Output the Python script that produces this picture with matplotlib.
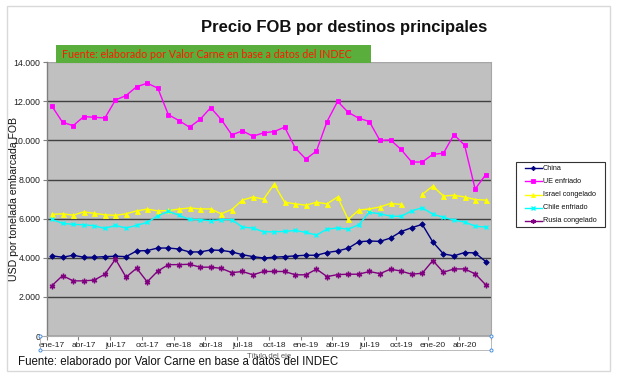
import numpy as np
import matplotlib
matplotlib.use('Agg')
import matplotlib.pyplot as plt
from matplotlib.patches import Rectangle
from matplotlib.lines import Line2D
from matplotlib.ticker import FuncFormatter

plt.rcParams['font.family'] = ['Liberation Sans', 'DejaVu Sans']

# ---------------- data ----------------
tick_labels = ["ene-17", "abr-17", "jul-17", "oct-17", "ene-18", "abr-18", "jul-18",
               "oct-18", "ene-19", "abr-19", "jul-19", "oct-19", "ene-20", "abr-20"]

china = [4100, 4030, 4130, 4030, 4030, 4060, 4080, 4060, 4350, 4370,
         4500, 4500, 4450, 4300, 4300, 4400, 4380, 4300, 4160, 4060,
         3990, 4030, 4060, 4100, 4130, 4130, 4270, 4350, 4490, 4820,
         4860, 4840, 5010, 5340, 5540, 5710, 4810, 4200, 4100, 4270,
         4250, 3810]
ue_enfriado = [11750, 10930, 10760, 11220, 11190, 11150, 12070, 12300, 12750, 12930,
               12680, 11320, 11020, 10680, 11080, 11680, 11070, 10290, 10490, 10220,
               10390, 10460, 10680, 9610, 9050, 9460, 10970, 12000, 11440, 11140,
               10970, 10000, 10030, 9540, 8900, 8900, 9290, 9350, 10300, 9760,
               7520, 8250]
israel_congelado = [6220, 6250, 6180, 6350, 6270, 6200, 6170, 6250, 6400, 6490,
                    6400, 6420, 6490, 6550, 6500, 6500, 6250, 6470, 6950, 7110,
                    7000, 7760, 6840, 6760, 6690, 6840, 6760, 7110, 5960, 6440,
                    6500, 6600, 6780, 6730, np.nan, 7240, 7670, 7160, 7200, 7110,
                    6980, 6950]
chile_enfriado = [5960, 5760, 5710, 5690, 5640, 5500, 5660, 5520, 5660, 5810,
                  6150, 6370, 6180, 5960, 5950, 5890, 5950, 5950, 5570, 5520,
                  5330, 5330, 5350, 5400, 5300, 5160, 5470, 5520, 5470, 5690,
                  6330, 6250, 6130, 6120, 6400, 6560, 6230, 6070, 5930, 5830,
                  5620, 5570]
rusia_congelado = [2580, 3090, 2820, 2820, 2860, 3160, 3930, 3010, 3470, 2770,
                   3320, 3650, 3650, 3670, 3520, 3520, 3460, 3240, 3300, 3130,
                   3300, 3300, 3300, 3130, 3130, 3420, 3040, 3140, 3160, 3160,
                   3300, 3190, 3420, 3320, 3160, 3210, 3860, 3260, 3430, 3430,
                   3180, 2620]

series_names = ["China", "UE enfriado", "Israel congelado", "Chile enfriado", "Rusia congelado"]
series_values = [china, ue_enfriado, israel_congelado, chile_enfriado, rusia_congelado]

styles = [
    dict(color='#000080', marker='D', ms=2.8, mfc='#000080', mec='#000080', mew=0.6),
    dict(color='#FF00FF', marker='s', ms=3.2, mfc='#FF00FF', mec='#FF00FF', mew=0.6),
    dict(color='#FFFF00', marker='^', ms=3.6, mfc='#FFFF00', mec='#FFFF00', mew=0.6),
    dict(color='#00FFFF', marker='x', ms=3.4, mfc='#00FFFF', mec='#00FFFF', mew=1.0),
    dict(color='#800080', marker=(6, 2, 0), ms=4.0, mfc='#800080', mec='#800080', mew=1.0),
]

# ---------------- layout helpers ----------------
W, H = 620, 378
def fx(px): return px / W
def fy(py): return 1 - py / H

fig = plt.figure(figsize=(6.2, 3.78), dpi=100)
fig.patch.set_facecolor('white')

# outer chart frame
fig.patches.append(Rectangle((fx(7), fy(371)), fx(610) - fx(7), fy(6) - fy(371),
                             transform=fig.transFigure, fill=False,
                             edgecolor='#d9d9d9', lw=1.0, zorder=0))

ax = fig.add_axes([fx(46.7), fy(336), fx(491) - fx(46.7), fy(62.3) - fy(336)])
ax.set_facecolor('#c0c0c0')

n = len(china)
x = np.arange(n)
for name, vals, st in zip(series_names, series_values, styles):
    ax.plot(x, vals, lw=1.0, label=name, zorder=3, **st)

ax.set_xlim(-0.5, n - 0.5)
ax.set_ylim(0, 14000)
ax.set_yticks(np.arange(0, 14001, 2000))
ax.yaxis.set_major_formatter(FuncFormatter(lambda v, p: f"{int(v):,}".replace(',', '.')))
ax.grid(axis='y', color='#404040', lw=1.0, zorder=1)
ax.get_ygridlines()[-1].set_color('#a6a6a6')
ax.set_axisbelow(True)

ax.set_xticks(np.arange(-0.5, n, 3))
ax.set_xticklabels([])
ax.set_xticks(np.arange(0, n, 3), minor=True)
ax.set_xticklabels(tick_labels, minor=True)
ax.tick_params(axis='x', which='major', direction='out', length=3, color='#808080')
ax.tick_params(axis='x', which='minor', length=0, pad=4, labelsize=6, labelcolor='#222222')
ax.tick_params(axis='y', direction='out', length=3, color='#808080', pad=1.5,
               labelsize=6.3, labelcolor='#222222')

ax.spines['top'].set_visible(False)
ax.spines['left'].set_color('#7f7f7f')
ax.spines['left'].set_linewidth(1.0)
ax.spines['right'].set_color('#a6a6a6')
ax.spines['right'].set_linewidth(0.8)
ax.spines['bottom'].set_color('#a6a6a6')
ax.spines['bottom'].set_linewidth(0.8)

# selected axis box with handles
fig.patches.append(Rectangle((fx(40), fy(350)), fx(491) - fx(40), fy(336) - fy(350),
                             transform=fig.transFigure, fill=False,
                             edgecolor='#b0b0b0', lw=0.6, zorder=2))
for hx, hy in [(40, 336), (40, 350), (491, 336), (491, 350)]:
    fig.lines.append(Line2D([fx(hx)], [fy(hy)], transform=fig.transFigure, marker='o',
                            ms=2.2, mfc='white', mec='#4a90e2', mew=0.7, zorder=6))

# title
fig.text(fx(344), fy(27.5), "Precio FOB por destinos principales", ha='center', va='center',
         fontsize=12, fontweight='bold', color='#111111')

# green source box
fig.patches.append(Rectangle((fx(55.7), fy(63.3)), fx(370.7) - fx(55.7), fy(45) - fy(63.3),
                             transform=fig.transFigure, facecolor='#5AAE3B',
                             edgecolor='none', zorder=5))
fig.text(fx(61.7), fy(54.5), "Fuente: elaborado por Valor Carne en base a datos del INDEC",
         ha='left', va='center', fontsize=7.7, color='#FF1A00',
         family=['Lato', 'DejaVu Sans'], zorder=6)

# y label
fig.text(fx(14), fy(199), "USD por tonelada embarcada FOB", rotation=90, ha='center',
         va='center', fontsize=7.6, color='#111111')

# axis title placeholder
fig.text(fx(269), fy(357), "Título del eje", ha='center', va='center', fontsize=5.5,
         color='#595959')

# bottom source
fig.text(fx(17.8), fy(362), "Fuente: elaborado por Valor Carne en base a datos del INDEC",
         ha='left', va='center', fontsize=8.3, color='#111111')

# legend (manual, figure coords)
fig.patches.append(Rectangle((fx(515.7), fy(227.3)), fx(605) - fx(515.7), fy(161.7) - fy(227.3),
                             transform=fig.transFigure, facecolor='white',
                             edgecolor='#333333', lw=0.8, zorder=5))
for k, (name, st) in enumerate(zip(series_names, styles)):
    yy = fy(168.3 + 13.1 * k)
    fig.lines.append(Line2D([fx(525), fx(541.7)], [yy, yy], transform=fig.transFigure,
                            color=st['color'], lw=1.0, zorder=6))
    fig.lines.append(Line2D([fx(533.3)], [yy], transform=fig.transFigure, lw=0,
                            marker=st['marker'], ms=st['ms'] * 0.8, mfc=st['mfc'],
                            mec=st['mec'], mew=st['mew'], zorder=7))
    fig.text(fx(542.7), yy, name, ha='left', va='center', fontsize=5.2,
             color='#111111', zorder=7)

fig.savefig('out.png', dpi=100)
